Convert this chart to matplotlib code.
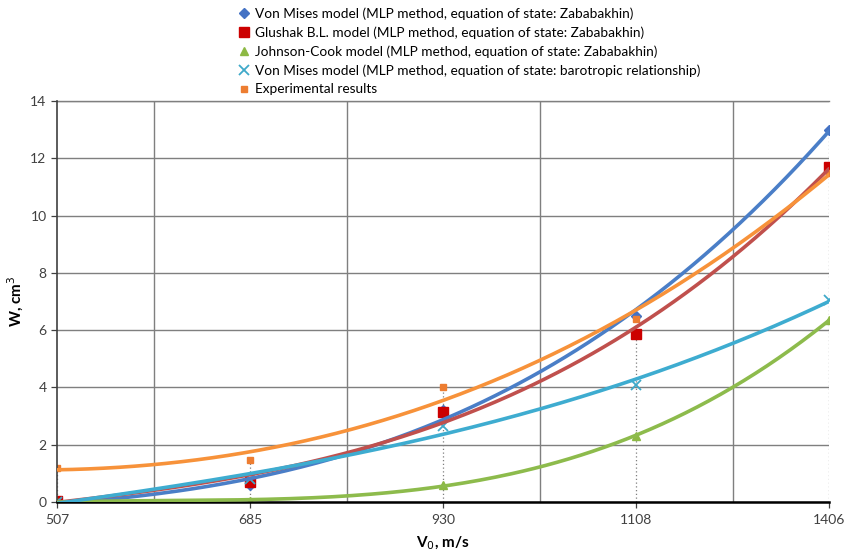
import numpy as np
import matplotlib
matplotlib.use("Agg")
import matplotlib.pyplot as plt
from matplotlib.ticker import MultipleLocator, FixedLocator

plt.rcParams['font.family'] = ['Lato', 'DejaVu Sans']

categories = ["507", "685", "930", "1108", "1406"]
von_mises_zab = [0.0, 0.6, 3.2, 6.5, 13.0]
glushak_zab = [0.05, 0.7, 3.15, 5.85, 11.7]
johnson_cook_zab = [0.0, 0.05, 0.6, 2.3, 6.35]
von_mises_baro = [0.0, 0.8, 2.65, 4.1, 7.05]
experimental = [1.2, 1.45, 4.0, 6.4, 11.5]

labels = [
    "Von Mises model (MLP method, equation of state: Zababakhin)",
    "Glushak B.L. model (MLP method, equation of state: Zababakhin)",
    "Johnson-Cook model (MLP method, equation of state: Zababakhin)",
    "Von Mises model (MLP method, equation of state: barotropic relationship)",
    "Experimental results",
]

series = [von_mises_zab, glushak_zab, johnson_cook_zab, von_mises_baro, experimental]
marker_colors = ["#4472C4", "#CC0000", "#8DB944", "#3FA9C9", "#ED7D31"]
line_colors = ["#4A7EC7", "#C0504D", "#8DBB4C", "#3EACD0", "#F7923A"]
markers = ["D", "s", "^", "x", "s"]
msizes = [5, 7, 6, 7, 5]
trend_degree = 3

fig = plt.figure(figsize=(8.44, 5.52), dpi=100)
ax = fig.add_axes([57/844, 50/552, (829-57)/844, (502-101)/552])

x = np.arange(1, len(categories) + 1)
xs = np.linspace(1, len(categories), 200)

# drop lines
tops = np.max(np.array(series), axis=0)
for xi, t in zip(x, tops):
    ax.plot([xi, xi], [0, t], color="#7F7F7F", lw=0.9, ls=(0, (1, 2)), zorder=1)

handles = []
for i in range(len(series)):
    y = np.array(series[i])
    coef = np.polyfit(x, y, trend_degree)
    ax.plot(xs, np.polyval(coef, xs), color=line_colors[i], lw=2.6, zorder=3 + i * 0.1,
            solid_capstyle='round')
for i in range(len(series)):
    y = np.array(series[i])
    if markers[i] == "x":
        h, = ax.plot(x, y, ls='none', marker='x', ms=msizes[i], mew=1.3,
                     color=marker_colors[i], zorder=2.5, label=labels[i])
    else:
        h, = ax.plot(x, y, ls='none', marker=markers[i], ms=msizes[i],
                     color=marker_colors[i], mec=marker_colors[i], zorder=2.5, label=labels[i])
    handles.append(h)

ax.set_xlim(1, 5)
ax.set_ylim(0, 14)
ax.yaxis.set_major_locator(MultipleLocator(2))
ax.set_xticks(x)
ax.set_xticklabels(categories)
ax.xaxis.set_minor_locator(FixedLocator([1.5, 2.5, 3.5, 4.5]))
ax.grid(True, which='major', axis='y', color="#7F7F7F", lw=1.0)
ax.grid(True, which='minor', axis='x', color="#7F7F7F", lw=1.0)
ax.tick_params(axis='x', which='minor', length=0)
ax.tick_params(axis='both', which='major', length=4, width=0.9, color="#404040",
               labelsize=10, labelcolor="#404040", direction='out')
ax.tick_params(axis='x', pad=5)
for s in ['top', 'right']:
    ax.spines[s].set_visible(False)
ax.spines['left'].set_color("#404040")
ax.spines['left'].set_linewidth(1.2)
ax.spines['bottom'].set_color("#000000")
ax.spines['bottom'].set_linewidth(1.8)
ax.plot([1, 5], [14, 14], color="#7F7F7F", lw=1.0, clip_on=False, zorder=0)

ax.set_xlabel("V$_0$, m/s", fontsize=11, fontweight='bold', labelpad=6)
ax.set_ylabel("W, cm$^3$", fontsize=11, fontweight='bold', labelpad=3)

fig.legend(handles=handles, labels=labels, loc='upper left',
           bbox_to_anchor=(232/844, 1 + 1/552), frameon=False, fontsize=9.8,
           handlelength=0.6, handletextpad=0.5, labelspacing=0.48, borderpad=0.1,
           labelcolor="#000000")

fig.savefig("out.png", dpi=100)
